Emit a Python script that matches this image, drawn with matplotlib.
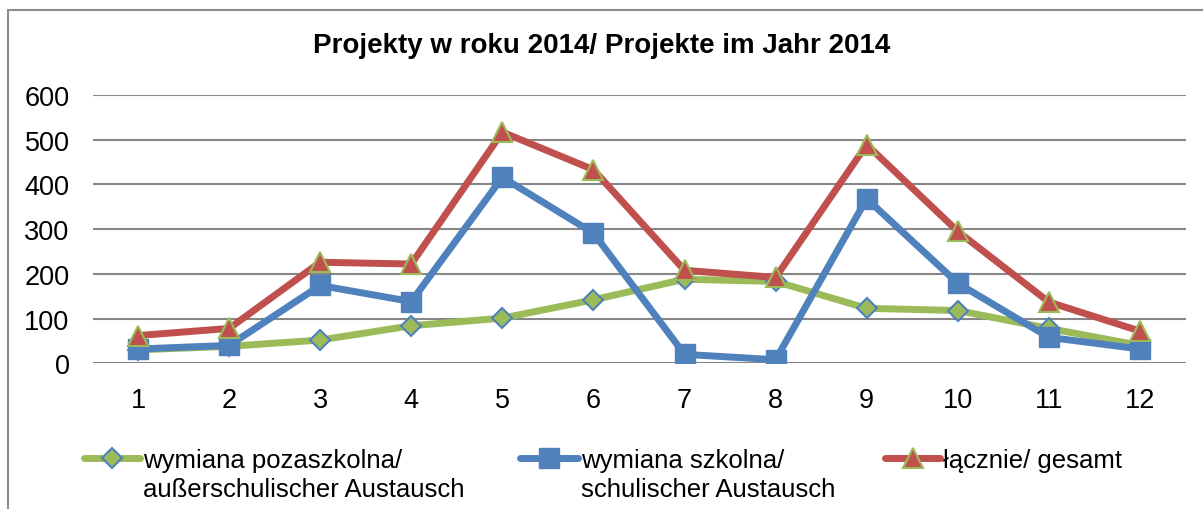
import matplotlib
matplotlib.use('Agg')
import matplotlib.pyplot as plt
from matplotlib.lines import Line2D
from matplotlib.patches import Rectangle

plt.rcParams['font.family'] = ['Liberation Sans', 'DejaVu Sans']

months = list(range(1, 13))
pozaszkolna = [30, 38, 52, 84, 101, 142, 188, 183, 123, 118, 78, 40]
szkolna = [32, 40, 174, 138, 416, 291, 20, 8, 368, 179, 58, 32]
lacznie = [62, 78, 226, 222, 517, 433, 208, 192, 489, 295, 137, 72]

labels = [["wymiana pozaszkolna/", "au\u00dferschulischer Austausch"],
          ["wymiana szkolna/", "schulischer Austausch"],
          ["\u0142\u0105cznie/ gesamt"]]
title = "Projekty w roku 2014/ Projekte im Jahr 2014"

green = '#9BBB59'
blue = '#4F81BD'
red = '#C0504D'

W, H = 1203, 510
fig = plt.figure(figsize=(W / 100, H / 100), dpi=100)
ax = fig.add_axes([92.5 / W, 1 - 364.3 / H, (1185.5 - 92.5) / W, (364.3 - 96) / H])

styles = [
    dict(color=green, marker='D', ms=10, mfc=green, mec=blue, mew=1.5),
    dict(color=blue, marker='s', ms=14, mfc=blue, mec=blue, mew=1),
    dict(color=red, marker='^', ms=14, mfc=red, mec=green, mew=1.5),
]
for z, (vals, st) in enumerate(zip([pozaszkolna, szkolna, lacznie], styles)):
    ax.plot(months, vals, lw=5, zorder=3 + z, **st)

ax.set_xlim(0.5, 12.5)
ax.set_ylim(0, 600)
ax.set_xticks(months)
ax.set_yticks(range(0, 601, 100))
ax.tick_params(length=0, labelsize=19.5)
ax.tick_params(axis='x', pad=17)
ax.tick_params(axis='y', pad=16.5)
for s in ax.spines.values():
    s.set_visible(False)
ax.grid(axis='y', color='#868686', lw=1.5)
ax.set_axisbelow(True)

fig.text(0.5, 1 - 46 / H, title, ha='center', va='center',
         fontsize=20, fontweight='bold')

# legend drawn by hand so the handle sits on the first text line
leg_x = [(84, 140), (520, 578), (885, 940)]
for (x0, x1), st, lab in zip(leg_x, styles, labels):
    yh = 1 - 459 / H
    fig.add_artist(Line2D([x0 / W, x1 / W], [yh, yh], transform=fig.transFigure,
                          color=st['color'], lw=5, solid_capstyle='round'))
    mk = {k: v for k, v in st.items() if k != 'color'}
    fig.add_artist(Line2D([(x0 + x1) / 2 / W], [yh], transform=fig.transFigure,
                          ls='none', **mk))
    for i, line in enumerate(lab):
        fig.text((x1 + 3) / W, 1 - (468 + 29 * i) / H, line, ha='left',
                 va='baseline', fontsize=18.5)

fig.patches.append(Rectangle((8 / W, -0.1), 1.2, 1.1 - 11 / H, transform=fig.transFigure,
                             fill=False, ec='#8c8c8c', lw=1.5))

fig.savefig('out.png', dpi=100)
